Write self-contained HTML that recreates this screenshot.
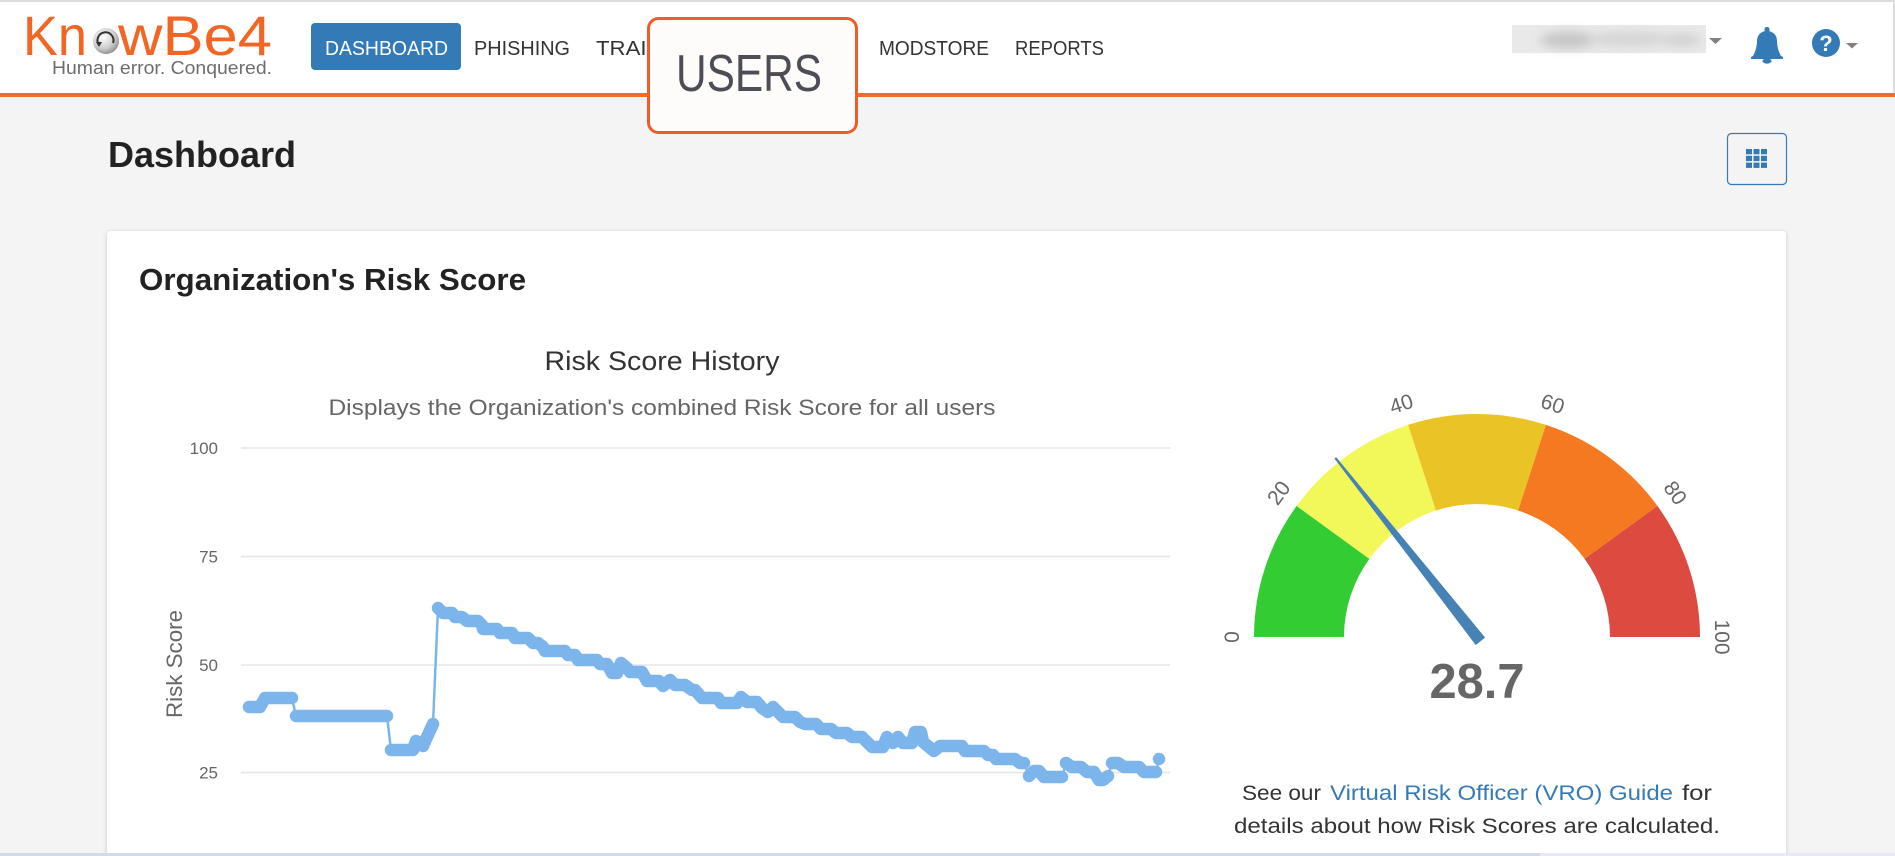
<!DOCTYPE html>
<html>
<head>
<meta charset="utf-8">
<style>
html,body{margin:0;padding:0;width:1895px;height:856px;overflow:hidden;background:#f4f4f4}
svg{display:block}
text{font-family:"Liberation Sans",Arial,sans-serif}
</style>
</head>
<body>
<svg width="1895" height="856" viewBox="0 0 1895 856" xmlns="http://www.w3.org/2000/svg">
<defs>
  <filter id="sh" x="-5%" y="-5%" width="110%" height="110%">
    <feDropShadow dx="0" dy="1" stdDeviation="2.5" flood-color="#000" flood-opacity="0.18"/>
  </filter>
  <filter id="bl" x="-20%" y="-60%" width="140%" height="220%">
    <feGaussianBlur stdDeviation="5"/>
  </filter>
  <radialGradient id="sph" cx="0.4" cy="0.35" r="0.7">
    <stop offset="0" stop-color="#ffffff"/>
    <stop offset="0.6" stop-color="#cfcfcf"/>
    <stop offset="1" stop-color="#8a8a8a"/>
  </radialGradient>
</defs>

<!-- page background -->
<rect x="0" y="0" width="1895" height="856" fill="#f4f4f4"/>

<!-- header -->
<rect x="0" y="0" width="1895" height="93" fill="#ffffff"/>
<rect x="0" y="0" width="1895" height="2" fill="#dddddd"/>
<rect x="1893" y="0" width="2" height="93" fill="#dddddd"/>
<rect x="0" y="93" width="1895" height="4" fill="#f36b24"/>

<!-- logo -->
<text x="23" y="55" font-size="56" fill="#f26522" textLength="64" lengthAdjust="spacingAndGlyphs">Kn</text>
<circle cx="106" cy="41" r="13" fill="url(#sph)"/>
<path d="M99 45 A8 8 0 1 1 113 43" fill="none" stroke="#333" stroke-width="2"/>
<path d="M96 42 L99 47 L102 42 Z" fill="#333"/>
<text x="118" y="55" font-size="56" fill="#f26522" textLength="154" lengthAdjust="spacingAndGlyphs">wBe4</text>
<text x="52" y="74" font-size="18" fill="#6d6d6d" textLength="220" lengthAdjust="spacingAndGlyphs">Human error. Conquered.</text>

<!-- nav -->
<rect x="311" y="23" width="150" height="47" rx="4" fill="#337ab7"/>
<text x="325" y="55" font-size="20" fill="#ffffff" textLength="123" lengthAdjust="spacingAndGlyphs">DASHBOARD</text>
<text x="474" y="55" font-size="20" fill="#333333" textLength="96" lengthAdjust="spacingAndGlyphs">PHISHING</text>
<text x="596" y="55" font-size="20" fill="#333333" textLength="106" lengthAdjust="spacingAndGlyphs">TRAINING</text>
<text x="879" y="55" font-size="20" fill="#333333" textLength="110" lengthAdjust="spacingAndGlyphs">MODSTORE</text>
<text x="1015" y="55" font-size="20" fill="#333333" textLength="89" lengthAdjust="spacingAndGlyphs">REPORTS</text>

<!-- USERS highlight box -->
<rect x="648.5" y="18.5" width="208" height="114" rx="10" fill="#fdfcfb" stroke="#ef5d27" stroke-width="3"/>
<text x="676" y="91" font-size="52" fill="#4d4d55" textLength="146" lengthAdjust="spacingAndGlyphs">USERS</text>

<!-- blurred user name -->
<rect x="1512" y="25" width="194" height="28" fill="#e9e9e9"/>
<g filter="url(#bl)">
  <ellipse cx="1568" cy="40" rx="28" ry="8" fill="#c4c4c4"/>
  <ellipse cx="1630" cy="39" rx="42" ry="7" fill="#d4d4d4"/>
  <ellipse cx="1682" cy="40" rx="20" ry="6" fill="#d0d0d0"/>
</g>
<path d="M1709 38 L1722 38 L1715.5 44 Z" fill="#808080"/>

<!-- bell -->
<g fill="#337ab7">
  <circle cx="1767" cy="29.5" r="2.6"/>
  <path d="M1753 56 C1756 51 1757 45 1757 41 C1757 35 1761 31 1767 31 C1773 31 1777 35 1777 41 C1777 45 1778 51 1781 56 L1783 57 L1783 59 L1751 59 L1751 57 Z"/>
  <ellipse cx="1767" cy="61" rx="4.5" ry="2.6"/>
</g>

<!-- help -->
<circle cx="1826" cy="43" r="14" fill="#337ab7"/>
<text x="1826" y="51" font-size="22" font-weight="bold" fill="#ffffff" text-anchor="middle">?</text>
<path d="M1846 43 L1858 43 L1852 48.5 Z" fill="#808080"/>

<!-- Dashboard title -->
<text x="108" y="167" font-size="36" font-weight="bold" fill="#222222" textLength="188" lengthAdjust="spacingAndGlyphs">Dashboard</text>

<!-- grid button -->
<rect x="1727.5" y="133.5" width="59" height="51" rx="4" fill="#f4f4f4" stroke="#337ab7" stroke-width="1.2"/>
<g fill="#337ab7">
  <rect x="1746" y="149" width="6" height="5.3"/><rect x="1753.5" y="149" width="6" height="5.3"/><rect x="1761" y="149" width="6" height="5.3"/>
  <rect x="1746" y="155.8" width="6" height="5.3"/><rect x="1753.5" y="155.8" width="6" height="5.3"/><rect x="1761" y="155.8" width="6" height="5.3"/>
  <rect x="1746" y="162.6" width="6" height="5.3"/><rect x="1753.5" y="162.6" width="6" height="5.3"/><rect x="1761" y="162.6" width="6" height="5.3"/>
</g>

<!-- card -->
<rect x="107" y="231" width="1679" height="660" rx="4" fill="#ffffff" filter="url(#sh)"/>
<text x="139" y="290" font-size="31" font-weight="bold" fill="#222222" textLength="387" lengthAdjust="spacingAndGlyphs">Organization's Risk Score</text>

<!-- chart titles -->
<text x="662" y="370" font-size="27" fill="#333333" text-anchor="middle" textLength="235" lengthAdjust="spacingAndGlyphs">Risk Score History</text>
<text x="662" y="415" font-size="22" fill="#666666" text-anchor="middle" textLength="667" lengthAdjust="spacingAndGlyphs">Displays the Organization's combined Risk Score for all users</text>

<!-- grid -->
<g stroke="#e6e6e6" stroke-width="1.5">
  <line x1="241" y1="448" x2="1170" y2="448"/>
  <line x1="241" y1="556.5" x2="1170" y2="556.5"/>
  <line x1="241" y1="665" x2="1170" y2="665"/>
  <line x1="241" y1="772.5" x2="1170" y2="772.5"/>
</g>
<g font-size="17" fill="#666666" text-anchor="end">
  <text x="218" y="454">100</text>
  <text x="218" y="562.5">75</text>
  <text x="218" y="671">50</text>
  <text x="218" y="778.5">25</text>
</g>
<text transform="translate(182,664) rotate(-90)" x="0" y="0" font-size="22" fill="#666666" text-anchor="middle" textLength="108" lengthAdjust="spacingAndGlyphs">Risk Score</text>

<!-- series line -->
<path fill="none" stroke="#7cb5ec" stroke-width="2.5" stroke-linejoin="round" d="M249 707 L260 707 L265 698 L292 698 L296 716 L387 716 L391 750 L413 750 L416 741 L423 746 L427 737 L433 724 L438 608 L443 613 L452 613 L455 617 L462 617 L467 621 L478 621 L482 625 L483 629 L497 629 L500 633 L512 633 L515 638 L528 638 L533 643 L538 643 L543 647 L545 651 L565 651 L568 655 L575 655 L578 660 L597 660 L600 664 L607 664 L612 673 L617 673 L621 663 L627 668 L630 672 L642 672 L647 681 L659 681 L663 686 L670 680 L675 685 L685 685 L692 690 L695 690 L702 698 L718 698 L721 703 L737 703 L741 697 L747 702 L757 702 L762 708 L768 712 L773 707 L778 712 L783 717 L795 717 L800 722 L805 724 L816 724 L821 729 L831 729 L836 733 L847 733 L852 737 L862 737 L867 742 L872 747 L883 747 L887 737 L893 743 L898 737 L903 743 L912 743 L915 732 L921 732 L923 742 L929 747 L934 751 L940 746 L962 746 L965 751 L984 751 L988 755 L993 755 L996 759 L1015 759 L1020 763 L1024 763 L1029 776 L1034 771 L1039 771 L1044 777 L1062 777 L1066 763 L1072 767 L1081 767 L1087 772 L1094 772 L1099 780 L1103 780 L1108 776 L1112 763 L1118 763 L1124 767 L1139 767 L1144 772 L1156 772 L1159 759"/>
<!-- markers (merged) -->
<path fill="none" stroke="#7cb5ec" stroke-width="12.5" stroke-linecap="round" stroke-linejoin="round" d="M249 707 H260 L265 698 H292 M296 716 H387 M391 750 H413 L416 741 L423 746 L427 737 L433 724 M438 608 L443 613 H452 L455 617 H462 L467 621 H478 L482 625 L483 629 H497 L500 633 H512 L515 638 H528 L533 643 H538 L543 647 L545 651 H565 L568 655 H575 L578 660 H597 L600 664 H607 L612 673 H617 L621 663 L627 668 L630 672 H642 L647 681 H659 L663 686 L670 680 L675 685 H685 L692 690 H695 L702 698 H718 L721 703 H737 L741 697 L747 702 H757 L762 708 L768 712 L773 707 L778 712 L783 717 H795 L800 722 L805 724 H816 L821 729 H831 L836 733 H847 L852 737 H862 L867 742 L872 747 H883 L887 737 L893 743 L898 737 L903 743 H912 L915 732 H921 L923 742 L929 747 L934 751 L940 746 H962 L965 751 H984 L988 755 H993 L996 759 H1015 L1020 763 H1024 M1029 776 L1034 771 H1039 L1044 777 H1062 M1066 763 L1072 767 H1081 L1087 772 H1094 L1099 780 H1103 L1108 776 M1112 763 H1118 L1124 767 H1139 L1144 772 H1156 M1159 759 h0.01"/>

<!-- gauge bands -->
<path d="M1254 637 A223 223 0 0 1 1296.59 505.92 L1369.40 558.82 A133 133 0 0 0 1344 637 Z" fill="#33cd33"/>
<path d="M1296.59 505.92 A223 223 0 0 1 1408.09 424.91 L1435.90 510.51 A133 133 0 0 0 1369.40 558.82 Z" fill="#f3f85a"/>
<path d="M1408.09 424.91 A223 223 0 0 1 1545.91 424.91 L1518.10 510.51 A133 133 0 0 0 1435.90 510.51 Z" fill="#eac425"/>
<path d="M1545.91 424.91 A223 223 0 0 1 1657.41 505.92 L1584.60 558.82 A133 133 0 0 0 1518.10 510.51 Z" fill="#f47920"/>
<path d="M1657.41 505.92 A223 223 0 0 1 1700 637 L1610 637 A133 133 0 0 0 1584.60 558.82 Z" fill="#dc4a40"/>

<!-- gauge labels -->
<g font-size="21" fill="#666666" text-anchor="middle">
  <text transform="translate(1232,637) rotate(-90)" y="7">0</text>
  <text transform="translate(1278.8,493) rotate(-54)" y="7">20</text>
  <text transform="translate(1401.3,404) rotate(-18)" y="7">40</text>
  <text transform="translate(1552.7,404) rotate(18)" y="7">60</text>
  <text transform="translate(1675.2,493) rotate(54)" y="7">80</text>
  <text transform="translate(1722,637) rotate(90)" y="7">100</text>
</g>

<!-- needle -->
<path d="M1475.8 644.3 L1484.4 637.5 L1336.1 457.8 L1335.1 458.6 Z" fill="#4682b4" stroke="#4682b4" stroke-width="1" stroke-linejoin="round"/>

<!-- value -->
<text x="1477" y="698" font-size="49" font-weight="bold" fill="#666666" text-anchor="middle" textLength="95" lengthAdjust="spacingAndGlyphs">28.7</text>

<!-- description -->
<text x="1242" y="800" font-size="21" fill="#333333" textLength="79" lengthAdjust="spacingAndGlyphs">See our</text>
<text x="1330" y="800" font-size="21" fill="#337ab7" textLength="343" lengthAdjust="spacingAndGlyphs">Virtual Risk Officer (VRO) Guide</text>
<text x="1682" y="800" font-size="21" fill="#333333" textLength="30" lengthAdjust="spacingAndGlyphs">for</text>
<text x="1234" y="833" font-size="21" fill="#333333" textLength="486" lengthAdjust="spacingAndGlyphs">details about how Risk Scores are calculated.</text>

<!-- bottom edge strip -->
<rect x="0" y="853" width="1540" height="3" fill="#d3daea"/>
<rect x="1540" y="853" width="355" height="3" fill="#e6eaf2"/>
</svg>
</body>
</html>
